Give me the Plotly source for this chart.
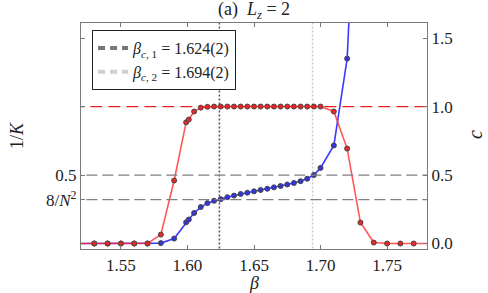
import plotly.graph_objects as go

# ---- data ----
beta = [1.51, 1.53, 1.54, 1.55, 1.56, 1.57, 1.58, 1.59, 1.599, 1.601,
        1.605, 1.61, 1.615, 1.62, 1.625, 1.63, 1.635, 1.64, 1.645, 1.65,
        1.655, 1.66, 1.665, 1.67, 1.675, 1.68, 1.685, 1.69, 1.695, 1.70,
        1.71, 1.72, 1.73, 1.74, 1.75, 1.76, 1.77, 1.79]
inv_K = [0.0, 0.0, 0.0, 0.0, 0.0, 0.0, 0.065, 0.46, 0.885, 0.905,
         0.964, 0.992, 0.998, 1.0, 1.0, 1.0, 1.0, 1.0, 1.0, 1.0,
         1.0, 1.0, 1.0, 1.0, 1.0, 1.0, 1.0, 1.0, 1.0, 1.0,
         0.964, 0.693, 0.153, 0.007, 0.0, 0.0, 0.0, 0.0]
beta_c = [1.51, 1.53, 1.54, 1.55, 1.56, 1.57, 1.58, 1.59, 1.599, 1.601,
          1.605, 1.61, 1.615, 1.62, 1.625, 1.63, 1.635, 1.64, 1.645, 1.65,
          1.655, 1.66, 1.665, 1.67, 1.675, 1.68, 1.685, 1.69, 1.695, 1.70,
          1.71, 1.72, 1.73]
c_vals = [0.0, 0.0, 0.0, 0.0, 0.0, 0.0, 0.003, 0.036, 0.155, 0.175,
          0.223, 0.266, 0.295, 0.312, 0.324, 0.338, 0.350, 0.362, 0.371, 0.381,
          0.391, 0.400, 0.410, 0.420, 0.431, 0.442, 0.455, 0.473, 0.500, 0.552,
          0.716, 1.35, 3.4]
beta_c1 = 1.624
beta_c2 = 1.694
h_gray = [0.5, 0.32]
h_red = 1.0
x_ticks = [1.55, 1.60, 1.65, 1.70, 1.75]
left_ticks = [0.32, 0.5, 1.0, 1.5]
left_labels = ["8/<i>N</i><sup>2</sup>", "0.5", "", ""]
right_ticks = [0.0, 0.5, 1.0, 1.5]
x_range = [1.52, 1.78]
y_range = [-0.04, 1.61]

FONT = "Liberation Serif"
GRAY = "#7a7a7a"

fig = go.Figure()

# horizontal reference lines
for h in h_gray:
    fig.add_trace(go.Scatter(x=[1.50, 1.80], y=[h, h], mode="lines",
                             line=dict(color="#808080", width=1.3, dash="11px,5px"),
                             showlegend=False, hoverinfo="skip", yaxis="y2"))
fig.add_trace(go.Scatter(x=[1.50, 1.80], y=[h_red, h_red], mode="lines",
                         line=dict(color="#e82020", width=1.3, dash="12px,6px"),
                         showlegend=False, hoverinfo="skip", yaxis="y2"))

# vertical critical lines
fig.add_trace(go.Scatter(x=[beta_c1, beta_c1], y=[-1, 5], mode="lines",
                         line=dict(color="#555555", width=1.5, dash="2px,2px"),
                         showlegend=False, hoverinfo="skip"))
fig.add_trace(go.Scatter(x=[beta_c2, beta_c2], y=[-1, 5], mode="lines",
                         line=dict(color="#c8c8c8", width=1.5, dash="2px,2px"),
                         showlegend=False, hoverinfo="skip"))

# data series
fig.add_trace(go.Scatter(x=beta_c, y=c_vals, mode="lines+markers",
                         line=dict(color="#3a3aff", width=1.6),
                         marker=dict(color="#3535e0", size=5,
                                     line=dict(color="#444444", width=1)),
                         showlegend=False))
fig.add_trace(go.Scatter(x=beta, y=inv_K, mode="lines+markers",
                         line=dict(color="rgba(255,45,45,0.8)", width=1.6),
                         marker=dict(color="#e82828", size=5,
                                     line=dict(color="#444444", width=1)),
                         showlegend=False))

# legend entries
fig.add_trace(go.Scatter(x=[None], y=[None], mode="lines",
                         line=dict(color="#777777", width=4, dash="7px,5px"),
                         name="<i>β</i><sub><i>c</i>, 1</sub> = 1.624(2)"))
fig.add_trace(go.Scatter(x=[None], y=[None], mode="lines",
                         line=dict(color="#d0d0d0", width=4, dash="7px,5px"),
                         name="<i>β</i><sub><i>c</i>, 2</sub> = 1.694(2)"))

axis_common = dict(showgrid=False, zeroline=False, showline=True,
                   linecolor=GRAY, linewidth=1.3, ticks="inside",
                   ticklen=4, tickcolor=GRAY, automargin=False,
                   tickfont=dict(family=FONT, size=17, color="#222"))

fig.update_layout(
    width=488, height=293,
    margin=dict(l=81, r=61, t=23, b=44),
    plot_bgcolor="white", paper_bgcolor="white",
    font=dict(family=FONT, size=17, color="#222"),
    xaxis=dict(range=x_range, tickvals=x_ticks,
               ticktext=[f"{v:.2f}" for v in x_ticks],
               mirror="ticks", **axis_common),
    yaxis=dict(range=y_range, tickvals=left_ticks, ticktext=left_labels,
               **axis_common),
    yaxis2=dict(range=y_range, overlaying="y", side="right",
                tickvals=right_ticks,
                ticktext=[f"{v:.1f}" for v in right_ticks],
                **axis_common),
    legend=dict(x=0.032, y=0.969, xanchor="left", yanchor="top",
                bgcolor="white", bordercolor="#222", borderwidth=1,
                font=dict(family=FONT, size=16, color="#222"),
                tracegroupgap=0, itemwidth=30),
    showlegend=True,
)

annots = [
    dict(text="(a)  <i>L</i><sub><i>z</i></sub> = 2", x=254, y=11,
         font=dict(family=FONT, size=18)),
    dict(text="1/<i>K</i>", x=17, y=136, textangle=-90,
         font=dict(family=FONT, size=18)),
    dict(text="<i>c</i>", x=475, y=135, textangle=-90,
         font=dict(family=FONT, size=20)),
    dict(text="<i>β</i>", x=254, y=283,
         font=dict(family=FONT, size=18)),
]
# convert pixel positions to paper coords
pw, ph = 488 - 81 - 61, 293 - 23 - 44
out = []
for a in annots:
    px, py = a["x"], a["y"]
    a["x"] = (px - 81) / pw
    a["y"] = (293 - 44 - py) / ph
    a.update(xref="paper", yref="paper", xanchor="center",
             yanchor="middle", showarrow=False)
    out.append(a)
fig.update_layout(annotations=out)

fig.write_html("out.html", config={"displayModeBar": False},
               post_script="document.body.style.margin='0';document.body.style.overflow='hidden';")
